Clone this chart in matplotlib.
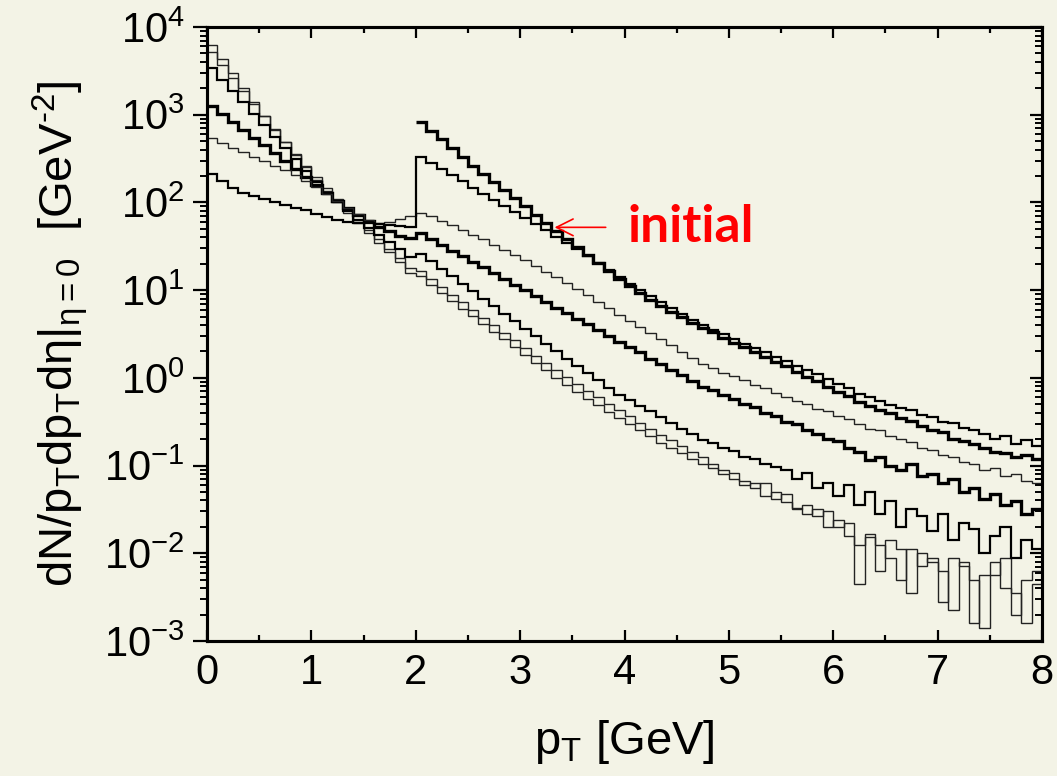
"""
Transverse momentum spectra at several times, log scale histogram steps.
"""
import numpy as np
import matplotlib
matplotlib.use("Agg")
import matplotlib.pyplot as plt
from matplotlib.ticker import MultipleLocator
from matplotlib import font_manager

# bin edges, 0.1 GeV wide
edges_all = np.round(np.arange(0, 8.0001, 0.1), 2)
edges_hi = edges_all[20:]

# log10 of dN/pTdpTdy, one value per bin
t1_log = [3.80, 3.63, 3.47, 3.31, 3.15, 2.99, 2.84, 2.69, 2.54, 2.40,
          2.26, 2.13, 2.00, 1.88, 1.76, 1.65, 1.54, 1.43, 1.32, 1.19,
          1.16, 1.06, 0.97, 0.88, 0.79, 0.70, 0.61, 0.52, 0.44, 0.35,
          0.26, 0.17, 0.09, 0.00, -0.08, -0.16, -0.24, -0.31, -0.39, -0.46,
          -0.53, -0.60, -0.66, -0.74, -0.80, -0.86, -0.93, -0.98, -1.03, -1.10,
          -1.15, -1.22, -1.20, -1.35, -1.30, -1.42, -1.50, -1.45, -1.58, -1.52,
          -1.70, -1.65, -1.90, -1.78, -2.20, -1.85, -1.95, -2.45, -2.00, -2.10,
          -2.55, -2.05, -2.15, -2.80, -2.25, -2.10, -2.40, -2.70, -2.30, -2.20]

t2_log = [3.72, 3.57, 3.42, 3.27, 3.12, 2.98, 2.83, 2.69, 2.55, 2.42,
          2.29, 2.16, 2.04, 1.92, 1.80, 1.69, 1.58, 1.47, 1.37, 1.25,
          1.22, 1.13, 1.04, 0.95, 0.86, 0.77, 0.68, 0.60, 0.51, 0.43,
          0.34, 0.25, 0.17, 0.09, 0.01, -0.07, -0.15, -0.22, -0.30, -0.37,
          -0.44, -0.51, -0.58, -0.65, -0.71, -0.78, -0.84, -0.90, -0.98, -1.05,
          -1.08, -1.18, -1.25, -1.20, -1.38, -1.32, -1.48, -1.55, -1.50, -1.70,
          -1.62, -1.80, -2.35, -1.82, -1.90, -2.05, -2.30, -1.95, -2.15, -2.05,
          -2.20, -2.65, -2.10, -2.30, -2.85, -2.25, -2.05, -2.45, -2.80, -2.35]

m3_log = [3.53, 3.40, 3.27, 3.14, 3.01, 2.88, 2.75, 2.62, 2.49, 2.36,
          2.23, 2.11, 2.00, 1.90, 1.80, 1.71, 1.63, 1.55, 1.47, 1.38,
          1.41, 1.33, 1.24, 1.16, 1.07, 0.99, 0.90, 0.82, 0.73, 0.65,
          0.56, 0.48, 0.39, 0.31, 0.22, 0.14, 0.05, -0.03, -0.12, -0.19,
          -0.25, -0.32, -0.38, -0.45, -0.51, -0.58, -0.64, -0.71, -0.74, -0.80,
          -0.83, -0.90, -0.92, -0.98, -1.02, -1.05, -1.15, -1.08, -1.25, -1.20,
          -1.35, -1.22, -1.45, -1.30, -1.55, -1.40, -1.70, -1.50, -1.58, -1.75,
          -1.55, -1.85, -1.65, -1.72, -2.00, -1.80, -1.70, -2.05, -1.85, -1.95]

k4_log = [3.10, 3.01, 2.92, 2.83, 2.74, 2.65, 2.56, 2.47, 2.38, 2.29,
          2.20, 2.11, 2.02, 1.94, 1.86, 1.79, 1.72, 1.67, 1.62, 1.59,
          1.65, 1.58, 1.52, 1.45, 1.39, 1.32, 1.26, 1.19, 1.13, 1.06,
          1.00, 0.93, 0.87, 0.80, 0.74, 0.67, 0.61, 0.54, 0.48, 0.41,
          0.35, 0.29, 0.22, 0.16, 0.09, 0.03, -0.04, -0.10, -0.14, -0.20,
          -0.24, -0.30, -0.33, -0.40, -0.44, -0.50, -0.53, -0.60, -0.64, -0.70,
          -0.72, -0.80, -0.84, -0.94, -0.90, -1.00, -1.05, -0.98, -1.12, -1.10,
          -1.20, -1.15, -1.30, -1.25, -1.38, -1.32, -1.45, -1.40, -1.55, -1.50]

t5_log = [2.73, 2.68, 2.62, 2.57, 2.52, 2.47, 2.42, 2.37, 2.31, 2.25,
          2.18, 2.10, 2.02, 1.94, 1.87, 1.80, 1.76, 1.78, 1.81, 1.85,
          1.88, 1.84, 1.79, 1.74, 1.69, 1.63, 1.58, 1.52, 1.46, 1.40,
          1.34, 1.28, 1.21, 1.15, 1.08, 1.01, 0.94, 0.87, 0.80, 0.72,
          0.65, 0.58, 0.51, 0.44, 0.37, 0.30, 0.23, 0.16, 0.11, 0.06,
          0.02, -0.03, -0.08, -0.12, -0.17, -0.22, -0.26, -0.30, -0.35, -0.38,
          -0.44, -0.47, -0.53, -0.58, -0.60, -0.66, -0.70, -0.73, -0.80, -0.82,
          -0.88, -0.90, -0.96, -0.98, -1.05, -1.03, -1.12, -1.10, -1.18, -1.20]

j_log = [2.32, 2.24, 2.17, 2.11, 2.07, 2.04, 2.00, 1.97, 1.94, 1.91,
         1.87, 1.83, 1.80, 1.78, 1.77, 1.76, 1.75, 1.74, 1.73, 1.72,
         2.52, 2.45, 2.38, 2.31, 2.24, 2.17, 2.10, 2.03, 1.96, 1.89,
         1.82, 1.75, 1.68, 1.61, 1.54, 1.47, 1.39, 1.31, 1.23, 1.15,
         1.07, 1.00, 0.93, 0.86, 0.80, 0.73, 0.66, 0.60, 0.55, 0.50,
         0.44, 0.39, 0.34, 0.29, 0.24, 0.19, 0.14, 0.09, 0.04, -0.01,
         -0.07, -0.12, -0.18, -0.22, -0.26, -0.31, -0.34, -0.37, -0.42, -0.45,
         -0.50, -0.52, -0.57, -0.60, -0.64, -0.70, -0.66, -0.75, -0.71, -0.78]

# initial spectrum only exists above 2 GeV
ini_log = [2.92, 2.82, 2.72, 2.62, 2.52, 2.42, 2.32, 2.23, 2.14, 2.05,
           1.96, 1.86, 1.76, 1.67, 1.58, 1.49, 1.40, 1.31, 1.22, 1.13,
           1.05, 0.97, 0.89, 0.82, 0.75, 0.69, 0.63, 0.57, 0.52, 0.46,
           0.40, 0.35, 0.29, 0.24, 0.18, 0.13, 0.07, 0.01, -0.04, -0.10,
           -0.16, -0.21, -0.27, -0.32, -0.37, -0.40, -0.46, -0.49, -0.55, -0.59,
           -0.62, -0.70, -0.72, -0.75, -0.80, -0.84, -0.86, -0.90, -0.88, -0.93]

BG = "#f3f3e6"
THIN, MED, THICK = 1.0, 1.6, 2.4


def pick_font():
    names = {f.name for f in font_manager.fontManager.ttflist}
    for n in ["Liberation Sans", "DejaVu Sans"]:
        if n in names:
            return n
    return "DejaVu Sans"


def main():
    font = pick_font()
    plt.rcParams["font.family"] = [font, "DejaVu Sans"]
    plt.rcParams["mathtext.fontset"] = "custom"
    plt.rcParams["mathtext.rm"] = font
    plt.rcParams["mathtext.it"] = font
    plt.rcParams["mathtext.default"] = "regular"
    plt.rcParams["axes.unicode_minus"] = False

    fig = plt.figure(figsize=(10.57, 7.76), dpi=100)
    fig.patch.set_facecolor(BG)
    ax = fig.add_axes([207 / 1057, 135 / 776, 835 / 1057, 614 / 776])
    ax.set_facecolor(BG)

    series = [
        (t1_log, edges_all, THIN, "#222222"),
        (t2_log, edges_all, THIN, "#222222"),
        (m3_log, edges_all, MED, "black"),
        (k4_log, edges_all, THICK, "black"),
        (t5_log, edges_all, THIN, "#222222"),
        (j_log, edges_all, MED, "black"),
        (ini_log, edges_hi, THICK, "black"),
    ]
    for vals, edges, lw, col in series:
        ax.stairs(10.0 ** np.array(vals), edges, color=col, lw=lw, baseline=None)

    ax.set_yscale("log")
    ax.set_xlim(0, 8)
    ax.set_ylim(1e-3, 1e4)
    ax.xaxis.set_major_locator(MultipleLocator(1))
    ax.xaxis.set_minor_locator(MultipleLocator(0.5))

    ax.tick_params(axis="x", which="both", direction="in", top=True,
                   width=1.6, labelsize=30, pad=9)
    ax.tick_params(axis="x", which="major", length=8)
    ax.tick_params(axis="x", which="minor", length=4.5)
    ax.tick_params(axis="y", which="major", direction="out", length=10,
                   width=1.6, pad=6, labelsize=30)
    ax.tick_params(axis="y", which="minor", direction="out", length=5, width=1.4)

    # right axis carries inward ticks
    ax2 = ax.twinx()
    ax2.set_yscale("log")
    ax2.set_ylim(1e-3, 1e4)
    ax2.tick_params(which="major", direction="in", length=9, width=1.6, labelright=False)
    ax2.tick_params(which="minor", direction="in", length=5, width=1.4)
    for a in (ax, ax2):
        for s in a.spines.values():
            s.set_linewidth(2.2)

    ax.set_xlabel(r"p$_{T}$ [GeV]", fontsize=34)
    ax.xaxis.set_label_coords(0.5, -0.125)
    ax.set_ylabel(r"dN/p$_{T}$dp$_{T}$d$\eta$|$_{\eta=0}$  [GeV$^{\text{-2}}$]", fontsize=34)
    ax.yaxis.set_label_coords(-0.14, 0.5)

    ax.annotate("", xy=(3.33, 52), xytext=(3.82, 52),
                arrowprops=dict(arrowstyle="->", color="red", lw=1.2,
                                mutation_scale=30, shrinkA=0, shrinkB=0))
    ax.text(4.03, 52, "initial", color="red", fontsize=37, fontweight="bold",
            family=["Lato", "DejaVu Sans"], va="center", ha="left")

    fig.savefig("out.png", dpi=100, facecolor=BG)
    plt.close(fig)


if __name__ == "__main__":
    main()
